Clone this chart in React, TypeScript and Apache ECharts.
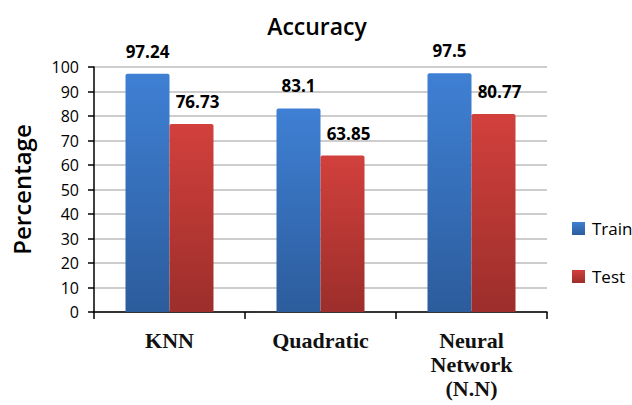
import React, { useEffect, useRef } from "react";
import * as echarts from "echarts";

const categories = ["KNN", "Quadratic", "Neural\nNetwork\n(N.N)"];
const trainValues = [97.24, 83.1, 97.5];
const testValues = [76.73, 63.85, 80.77];
const seriesNames = ["Train", "Test"];

const blueFill = new echarts.graphic.LinearGradient(0, 0, 0, 1, [
  { offset: 0, color: "#3f80d4" },
  { offset: 1, color: "#2c5c9c" },
]);
const redFill = new echarts.graphic.LinearGradient(0, 0, 0, 1, [
  { offset: 0, color: "#d2403c" },
  { offset: 1, color: "#9c2e2b" },
]);

export default function App() {
  const ref = useRef<HTMLDivElement>(null);
  useEffect(() => {
    if (!ref.current) return;
    const chart = echarts.init(ref.current, undefined, { renderer: "svg" });
    const sans = "'Open Sans', sans-serif";
    const valueLabel = {
      show: true,
      position: "top" as const,
      distance: 14,
      fontFamily: sans,
      fontSize: 17,
      fontWeight: "bold" as const,
      color: "#000",
    };
    chart.setOption({
      animation: false,
      backgroundColor: "#ffffff",
      title: {
        text: "Accuracy",
        left: 312,
        top: 9,
        textAlign: "center",
        textStyle: { fontFamily: sans, fontSize: 23, fontWeight: 600, color: "#000" },
      },
      legend: {
        orient: "vertical",
        left: 567,
        top: 215,
        itemWidth: 13,
        itemHeight: 13,
        itemGap: 31,
        icon: "rect",
        data: seriesNames,
        textStyle: { fontFamily: sans, fontSize: 17, color: "#000", padding: [0, 0, 0, 2] },
      },
      grid: { left: 94, right: 85, top: 67, bottom: 93 },
      xAxis: {
        type: "category",
        data: categories,
        axisLine: { lineStyle: { color: "#000", width: 1.5 } },
        axisTick: { show: true, length: 7, lineStyle: { color: "#000", width: 1.5 } },
        axisLabel: {
          fontFamily: "'Liberation Serif', serif",
          fontWeight: "bold",
          fontSize: 22,
          color: "#111",
          margin: 16,
          lineHeight: 24,
        },
      },
      yAxis: {
        type: "value",
        min: 0,
        max: 100,
        interval: 10,
        name: "Percentage",
        nameLocation: "middle",
        nameGap: 61,
        nameTextStyle: { fontFamily: sans, fontSize: 24, fontWeight: 600, color: "#000" },
        axisLine: { show: true, lineStyle: { color: "#000", width: 1.5 } },
        axisTick: { show: true, length: 6, lineStyle: { color: "#000", width: 1.5 } },
        axisLabel: { fontFamily: sans, fontSize: 16, fontWeight: 500, color: "#000", margin: 15 },
        splitLine: { lineStyle: { color: "#bdbdbd", width: 1.5 } },
      },
      series: [
        {
          name: seriesNames[0],
          type: "bar",
          data: trainValues,
          barWidth: 44,
          barGap: "0%",
          itemStyle: { color: blueFill, borderRadius: [2, 2, 0, 0] },
          label: valueLabel,
        },
        {
          name: seriesNames[1],
          type: "bar",
          data: testValues,
          barWidth: 44,
          barGap: "0%",
          itemStyle: { color: redFill, borderRadius: [2, 2, 0, 0] },
          label: { ...valueLabel, offset: [6, 0] },
        },
      ],
    });
    return () => chart.dispose();
  }, []);
  return (
    <div
      ref={ref}
      style={{ position: "absolute", left: 0, top: 0, width: 632, height: 405 }}
    />
  );
}
